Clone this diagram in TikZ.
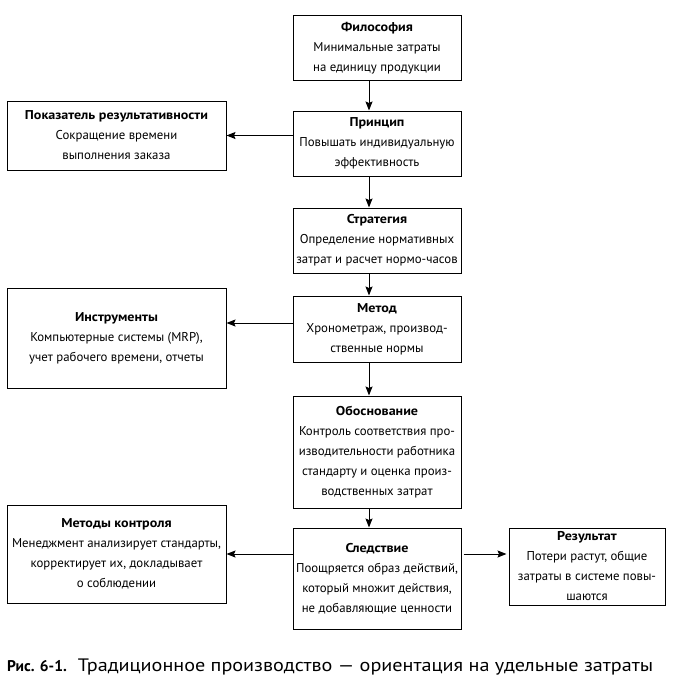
\documentclass[tikz,border=0pt]{standalone}
\usepackage{fontspec}
\setmainfont{PT Sans}
\newfontfamily\ttlfont{PT Sans}[FakeStretch=1.1]
\newfontfamily\capfont{PT Sans}[FakeStretch=1.12]
\newcommand{\ttl}[1]{{\ttlfont\bfseries #1}}
\usetikzlibrary{arrows.meta}
\begin{document}
\begin{tikzpicture}[x=1pt,y=-1pt,
  box/.style={draw, line width=1pt, inner sep=0pt, align=center,
    font=\fontsize{12.8}{20}\selectfont},
  arr/.style={-{Stealth[length=9pt,width=7pt,inset=1.5pt]}, line width=1pt}]
\useasboundingbox (0,0) rectangle (673,685);
\node[box, minimum width=168pt, minimum height=64pt] (phil) at (377,48)
  {\ttl{Философия}\\Минимальные затраты\\на единицу продукции};
\node[box, minimum width=168pt, minimum height=65pt] (princ) at (377,143.5)
  {\ttl{Принцип}\\Повышать индивидуальную\\эффективность};
\node[box, minimum width=219pt, minimum height=69pt] (pokaz) at (116.5,135.5)
  {\ttl{Показатель результативности}\\Сокращение времени\\выполнения заказа};
\node[box, minimum width=168pt, minimum height=65pt] (strat) at (377,240.5)
  {\ttl{Стратегия}\\Определение нормативных\\затрат и расчет нормо-часов};
\node[box, minimum width=168pt, minimum height=66pt] (method) at (377,329)
  {\ttl{Метод}\\Хронометраж, производ-\\ственные нормы};
\node[box, minimum width=219pt, minimum height=100pt] (instr) at (116.5,338)
  {\ttl{Инструменты}\\Компьютерные системы (MRP),\\учет рабочего времени, отчеты};
\node[box, minimum width=168pt, minimum height=112pt] (obos) at (377,452)
  {\ttl{Обоснование}\\Контроль соответствия про-\\изводительности работника\\стандарту и оценка произ-\\водственных затрат};
\node[box, minimum width=168pt, minimum height=101pt] (sled) at (377,578.5)
  {\ttl{Следствие}\\Поощряется образ действий,\\который множит действия,\\не добавляющие ценности};
\node[box, minimum width=219pt, minimum height=98pt] (mc) at (116.5,554)
  {\ttl{Методы контроля}\\Менеджмент анализирует стандарты,\\корректирует их, докладывает\\о соблюдении};
\node[box, minimum width=156pt, minimum height=77pt] (res) at (587,566.5)
  {\ttl{Результат}\\Потери растут, общие\\затраты в системе повы-\\шаются};
\node[anchor=west, inner sep=0pt] (cap) at (7,667)
  {{\fontsize{15.5}{20}\selectfont\bfseries Рис. 6-1.}\hspace{11pt}{\capfont\fontsize{18}{20}\selectfont Традиционное производство — ориентация на удельные затраты}};
\coordinate (m1) at ([yshift=6pt]method.west);
\draw[arr] ([xshift=-8pt]phil.south) -- ([xshift=-8pt]princ.north);
\draw[arr] ([xshift=-8pt]princ.south) -- ([xshift=-8pt]strat.north);
\draw[arr] ([xshift=-8pt]strat.south) -- ([xshift=-8pt]method.north);
\draw[arr] ([xshift=-8pt]method.south) -- ([xshift=-8pt]obos.north);
\draw[arr] ([xshift=-8pt]obos.south) -- ([xshift=-8pt]sled.north);
\draw[arr] (princ.west |- pokaz.east) -- (pokaz.east);
\draw[arr] (m1) -- (instr.east |- m1);
\draw[arr] (sled.west |- mc.east) -- (mc.east);
\draw[arr, shorten <=2pt, shorten >=2pt] (sled.east |- mc.east) -- (res.west |- mc.east);
\end{tikzpicture}
\end{document}
